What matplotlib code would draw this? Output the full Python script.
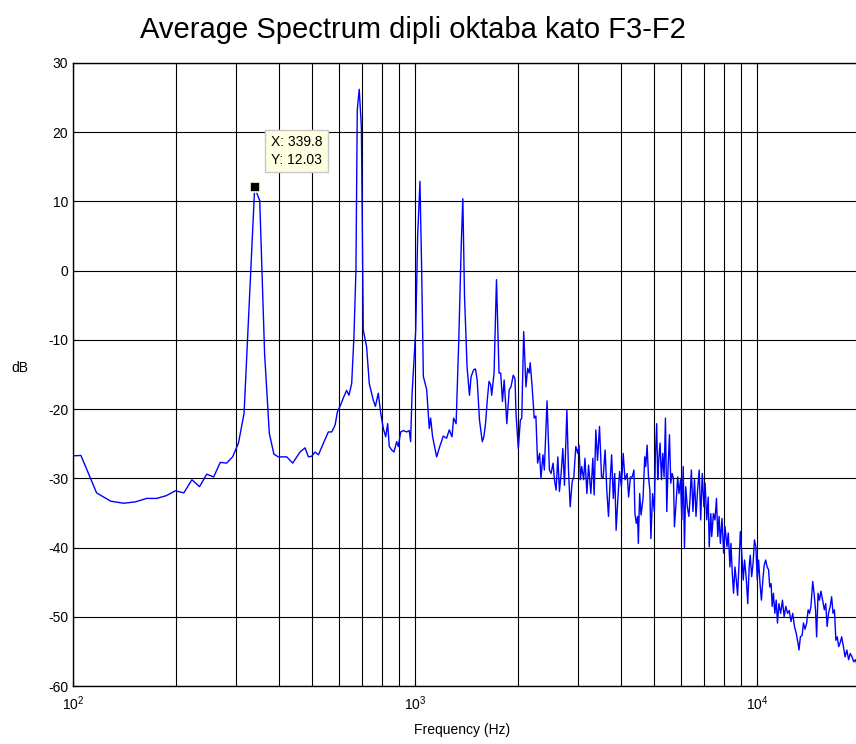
import matplotlib
matplotlib.use("Agg")
import matplotlib.pyplot as plt
from matplotlib.ticker import FixedLocator, LogLocator, NullFormatter

plt.rcParams['font.family'] = ['Liberation Sans', 'DejaVu Sans']
plt.rcParams['mathtext.fontset'] = 'custom'
plt.rcParams['mathtext.rm'] = 'Liberation Sans'
plt.rcParams['mathtext.it'] = 'Liberation Sans:italic'
plt.rcParams['axes.unicode_minus'] = False

# averaged spectrum (Hz, dB)
freq = [93.8, 105.5, 117.2, 128.9, 140.6, 152.3, 164.1, 175.8, 187.5, 199.2,
        210.9, 222.7, 234.4, 246.1, 257.8, 269.5, 281.3, 293.0, 304.7, 316.4,
        339.8, 351.6, 363.3, 375.0, 386.7, 398.4, 410.2, 421.9, 439.0,
        461, 477, 488, 499, 510, 522, 540, 558, 571, 584,
        593, 606, 617, 631, 641, 653, 663, 672, 678, 687,
        697, 706, 722, 735, 755, 766, 781, 794, 808, 821,
        832, 841, 855, 868, 884, 894, 908, 925, 945, 962,
        971, 980, 1005, 1018, 1034, 1046, 1058, 1082, 1101, 1111,
        1126, 1157, 1185, 1210, 1237, 1260, 1283, 1297, 1319, 1343,
        1365, 1380, 1396, 1420, 1443, 1459, 1485, 1503, 1520, 1544,
        1573, 1590, 1608, 1627, 1646, 1665, 1676, 1703, 1731, 1761,
        1781, 1802, 1823, 1856, 1886, 1908, 1938, 1961, 1974, 2005,
        2033, 2052, 2079, 2111, 2135, 2158, 2172, 2197, 2232, 2257,
        2283, 2314, 2335, 2367, 2389, 2433, 2472, 2500, 2534, 2557,
        2586, 2616, 2645, 2675, 2706, 2736, 2781, 2811, 2843, 2881,
        2914, 2953, 2992, 3018, 3045, 3072, 3113, 3140, 3182, 3218,
        3268, 3312, 3341, 3379, 3418, 3464, 3511, 3549, 3597, 3638,
        3680, 3723, 3758, 3801, 3838, 3874, 3920, 3966, 4014, 4063,
        4112, 4172, 4214, 4265, 4318, 4367, 4397, 4438, 4477, 4499,
        4539, 4582, 4644, 4696, 4728, 4773, 4817, 4862, 4895, 4953,
        5011, 5045, 5091, 5125, 5160, 5207, 5256, 5303, 5350, 5400,
        5448, 5497, 5547, 5597, 5648, 5699, 5737, 5799, 5863, 5914,
        5978, 6030, 6086, 6137, 6189, 6255, 6323, 6373, 6429, 6497,
        6567, 6633, 6704, 6777, 6846, 6919, 6995, 7052, 7129, 7203,
        7250, 7328, 7375, 7456, 7535, 7613, 7680, 7748, 7816, 7901,
        7990, 8063, 8171, 8242, 8337, 8393, 8468, 8542, 8621, 8701,
        8776, 8863, 8940, 9027, 9114, 9198, 9312, 9398, 9488, 9555,
        9650, 9740, 9831, 9926, 10020, 10111, 10206, 10303, 10401, 10503,
        10604, 10707, 10812, 10898, 10997, 11079, 11172, 11279, 11384, 11479,
        11594, 11730, 11870, 12007, 12144, 12285, 12425, 12575, 12722, 12872,
        13026, 13180, 13271, 13395, 13550, 13675, 13818, 13976, 14113, 14246,
        14382, 14553, 14690, 14833, 14942, 15089, 15229, 15378, 15558, 15741,
        15886, 16041, 16188, 16374, 16532, 16687, 16849, 17009, 17170, 17335,
        17497, 17688, 17897, 18101, 18313, 18537, 18744, 18960, 19190, 19409,
        19631, 19871, 20146]
db = [-26.8, -26.7, -32.1, -33.3, -33.6, -33.4, -32.9, -32.9, -32.5, -31.8,
      -32.1, -30.2, -31.2, -29.4, -29.8, -27.7, -27.8, -26.9, -24.9, -20.6,
      12.03, 10.1, -12.0, -23.5, -26.5, -26.9, -26.9, -26.9, -27.8,
      -26.2, -25.6, -26.9, -26.8, -26.2, -26.6, -24.9, -23.3, -23.3, -22.3,
      -20.4, -19.4, -18.4, -17.3, -18.0, -16.3, -9.5, 0.1, 23.2, 26.2,
      20.8, -8.6, -11.0, -16.3, -18.7, -19.6, -17.7, -20.6, -22.8, -24.0,
      -22.1, -25.4, -25.9, -26.2, -24.7, -25.4, -23.3, -23.1, -23.3, -23.1,
      -24.7, -18.0, -8.6, 4.9, 12.9, 0.1, -15.3, -17.2, -22.8, -21.3,
      -24.0, -26.9, -25.2, -23.9, -24.2, -23.0, -24.0, -21.3, -22.1, -10.0,
      3.5, 10.4, -3.8, -13.9, -18.0, -15.3, -14.3, -14.2, -15.8, -21.6,
      -24.7, -24.0, -22.1, -18.7, -16.0, -16.5, -18.0, -14.8, -1.3, -14.8,
      -14.8, -18.9, -15.8, -22.1, -17.2, -16.8, -15.1, -15.6, -20.6, -25.7,
      -21.6, -21.3, -8.8, -16.8, -14.1, -14.8, -13.3, -16.3, -21.3, -21.0,
      -27.8, -26.4, -30.0, -26.6, -28.8, -18.8, -28.8, -29.3, -27.8, -30.2,
      -31.7, -26.9, -31.9, -29.3, -25.7, -31.0, -20.1, -28.8, -34.1, -30.5,
      -29.8, -25.4, -26.4, -25.2, -30.2, -28.3, -30.2, -27.1, -32.2, -28.1,
      -32.2, -27.1, -32.4, -23.0, -27.4, -22.5, -29.8, -29.9, -25.9, -31.7,
      -35.5, -30.2, -26.6, -32.9, -29.3, -37.5, -32.9, -29.0, -31.2, -26.4,
      -30.2, -29.3, -32.7, -29.8, -29.8, -28.8, -35.1, -36.5, -35.5, -39.4,
      -32.2, -35.3, -32.9, -26.9, -28.3, -25.2, -29.8, -31.7, -38.7, -32.2,
      -34.8, -26.9, -22.1, -30.2, -27.4, -24.9, -30.2, -26.4, -29.8, -21.3,
      -34.8, -28.3, -23.7, -30.7, -29.3, -30.0, -37.0, -33.6, -29.8, -32.2,
      -30.2, -36.0, -28.3, -40.1, -31.2, -34.1, -35.5, -32.9, -28.8, -34.8,
      -30.2, -35.5, -31.7, -28.8, -36.0, -29.3, -34.1, -30.7, -36.0, -32.7,
      -39.9, -35.1, -38.4, -35.1, -36.0, -32.9, -38.4, -35.5, -39.4, -35.8,
      -40.8, -37.0, -39.9, -37.9, -42.8, -39.4, -43.7, -46.6, -42.8, -44.7,
      -46.9, -42.3, -37.7, -40.8, -44.7, -41.8, -44.7, -48.1, -42.8, -41.1,
      -44.2, -42.3, -38.9, -39.9, -44.7, -41.8, -45.2, -47.6, -44.7, -42.5,
      -41.8, -42.8, -43.2, -45.7, -45.2, -48.5, -46.6, -49.5, -47.6, -50.9,
      -48.1, -49.5, -47.6, -50.0, -48.5, -49.5, -49.1, -50.7, -49.5, -51.4,
      -52.4, -53.8, -54.8, -52.9, -52.7, -50.9, -51.8, -50.9, -49.0, -49.5,
      -48.5, -44.9, -46.6, -49.0, -52.9, -46.6, -47.6, -46.3, -47.6, -49.0,
      -48.1, -51.4, -49.5, -48.5, -47.1, -49.5, -49.0, -53.4, -52.9, -54.3,
      -53.8, -52.9, -54.3, -55.8, -54.8, -56.2, -55.3, -55.8, -56.5, -56.2,
      -57.0, -57.2, -57.7]

tip_f = 339.8
tip_db = 12.03

fig = plt.figure(figsize=(8.56, 7.44), dpi=100)
ax = fig.add_axes([73 / 856, 58 / 744, 814 / 856, 623 / 744])
ax.semilogx(freq, db, color='#0000ff', lw=1.0)
ax.set_xlim(100, 24000)
ax.set_ylim(-60, 30)
ax.set_yticks(range(-60, 31, 10))
ax.xaxis.set_major_locator(FixedLocator([100, 1000, 10000]))
ax.xaxis.set_minor_locator(LogLocator(base=10, subs=range(2, 10)))
ax.xaxis.set_minor_formatter(NullFormatter())
ax.grid(True, which='both', color='black', lw=0.8, ls='-')
ax.set_axisbelow(True)
ax.tick_params(which='both', direction='in', top=True, right=True, labelsize=10)
ax.tick_params(axis='x', pad=6)
for s in ax.spines.values():
  s.set_linewidth(1.0)

# data tip
ax.plot([tip_f], [tip_db], 's', ms=7, mfc='black', mec='#ffffe1', mew=1.2, zorder=5)
ax.annotate("X: %.1f\nY: %.2f" % (tip_f, tip_db), xy=(tip_f, tip_db),
            xytext=(16, 52), textcoords='offset pixels', ha='left', va='top',
            fontsize=10, linespacing=1.3, zorder=6,
            bbox=dict(boxstyle='square,pad=0.4', fc='#ffffe1', ec='#c8c8c8', lw=1))

fig.text(413 / 856, 1 - 38 / 744, "Average Spectrum dipli oktaba kato F3-F2",
         ha='center', va='baseline', fontsize=21)
fig.text(462 / 856, 1 - 730 / 744, "Frequency (Hz)", ha='center', va='center', fontsize=10)
fig.text(20 / 856, 1 - 368 / 744, "dB", ha='center', va='center', fontsize=10)

fig.savefig("out.png", dpi=100)
